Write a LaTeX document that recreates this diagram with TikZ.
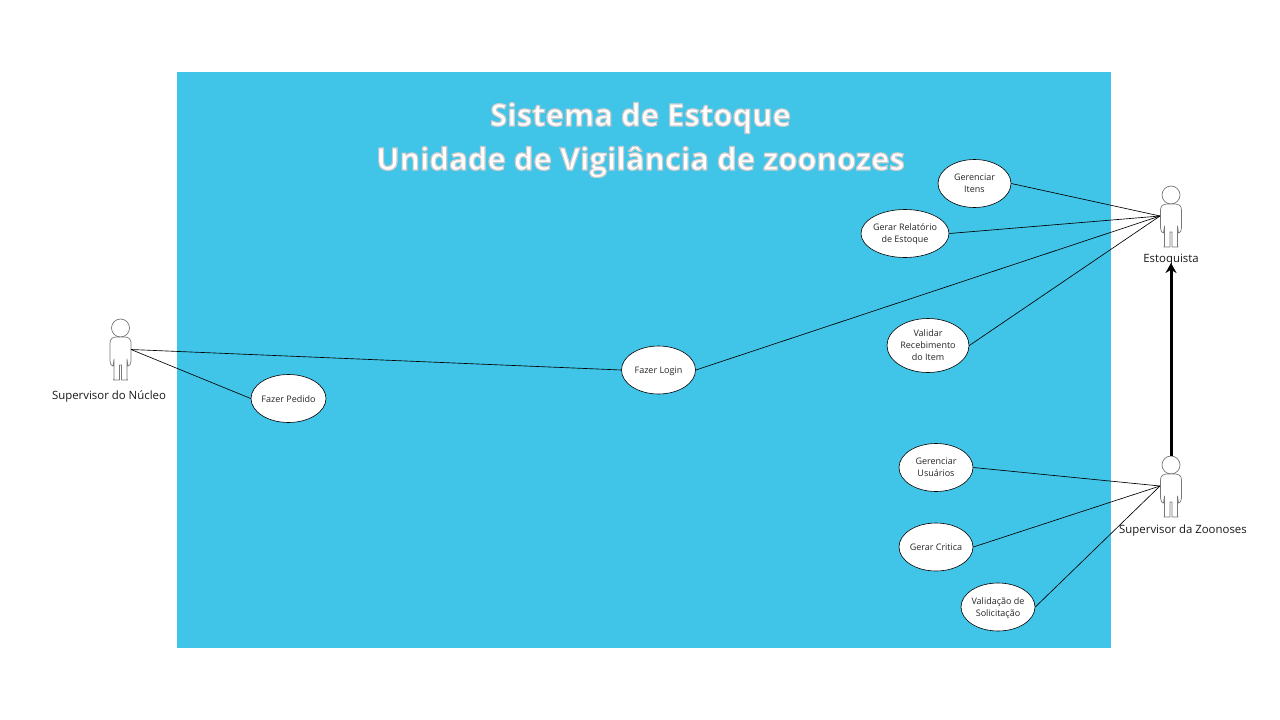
\documentclass[tikz,border=0pt]{standalone}
\usepackage{fontspec}
\setmainfont{Open Sans}
\usetikzlibrary{arrows.meta,shapes.geometric}
\definecolor{sysblue}{HTML}{40C4E7}
\definecolor{figgray}{HTML}{777777}
\tikzset{
  usecase/.style={draw=black,fill=white,ellipse,line width=0.6pt,inner sep=-5pt,align=center,font=\fontsize{9}{11.7}\selectfont,text=black!85,
    execute at begin node={\rule{0pt}{10.5pt}},execute at end node={\rule[-3pt]{0pt}{3pt}}},
  usecasetwo/.style={usecase,execute at begin node={\rule{0pt}{21pt}}},
  usecasethree/.style={usecase,execute at begin node={\rule{0pt}{32pt}}},
  link/.style={draw=black,line width=0.65pt},
  actorlabel/.style={font=\fontsize{11.4}{14}\selectfont,text=black!90,inner sep=0pt},
  titletext/.style={font=\bfseries\fontsize{31}{44}\selectfont,text=white,align=center,inner sep=0pt},
  figure/.style={draw=figgray,fill=white,line width=0.7pt,line join=round},
  hand/.style={inner sep=0pt,minimum size=0pt,outer sep=0pt}
}
\newcommand{\stickman}[2]{%
  \begin{scope}[shift={(#1,#2)}]
    \draw[figure] (0,-21) circle (9);
    \draw[figure] (-4,-12) .. controls (-8,-12) and (-10.5,-10) .. (-10.5,-6)
      -- (-10.5,12) .. controls (-10.5,15) and (-9,17) .. (-7.5,17)
      -- (-6.5,10) -- (-6.5,30) -- (-7,31) -- (-1,31) -- (-1,16) -- (1,16) -- (1,31) -- (7,31) -- (6.5,30) -- (6.5,10)
      -- (7.5,17) .. controls (9,17) and (10.5,15) .. (10.5,12)
      -- (10.5,-6) .. controls (10.5,-10) and (8,-12) .. (4,-12) -- cycle;
  \end{scope}}
\begin{document}
\begin{tikzpicture}[x=1pt,y=-1pt]
\useasboundingbox (0,0) rectangle (1280,720);
\fill[white] (0,0) rectangle (1280,720);
\fill[sysblue] (177,72) rectangle (1110.5,648);
\node[titletext] (title) at (640.5,140) {\special{pdf:code q 2 Tr 1.2 w 0.8 G}Sistema de Estoque\\Unidade de Vigilância de zoonozes\special{pdf:code 0 Tr Q}};

\stickman{120.5}{349}
\stickman{1171}{216}
\stickman{1171}{486}
\node[hand] (nucleo) at (131,349.5) {};
\node[hand] (estoq) at (1160,216) {};
\node[hand] (zoon) at (1160,486) {};

\node[actorlabel] (lnucleo) at (109,396.5) {Supervisor do Núcleo};
\node[actorlabel] (lestoq) at (1171,260) {Estoquista};
\node[actorlabel] (lzoon) at (1183,531) {Supervisor da Zoonoses};

\node[usecase,minimum width=75,minimum height=48] (pedido) at (288.5,398.5) {Fazer Pedido};
\node[usecase,minimum width=74,minimum height=48] (login) at (658.5,370) {Fazer Login};
\node[usecasetwo,minimum width=73,minimum height=48] (itens) at (974.5,183.5) {Gerenciar\\Itens};
\node[usecasetwo,minimum width=88,minimum height=48] (relat) at (905,233.5) {Gerar Relatório\\de Estoque};
\node[usecasethree,minimum width=82,minimum height=54] (valid) at (928,345.5) {Validar\\Recebimento\\do Item};
\node[usecasetwo,minimum width=74,minimum height=48] (usuar) at (936,467.5) {Gerenciar\\Usuários};
\node[usecase,minimum width=74,minimum height=48] (critica) at (936,547) {Gerar Critica};
\node[usecasetwo,minimum width=74,minimum height=48] (solic) at (998,607) {Validação de\\Solicitação};

\draw[link] (nucleo) -- (pedido.west);
\draw[link] (nucleo) -- (login.west);
\draw[link] (login.east) -- (estoq);
\draw[link] (itens.east) -- (estoq);
\draw[link] (relat.east) -- (estoq);
\draw[link] (valid.east) -- (estoq);
\draw[link] (usuar.east) -- (zoon);
\draw[link] (critica.east) -- (zoon);
\draw[link] (solic.east) -- (zoon);
\coordinate (zhead) at (1171,456);
\coordinate (earrow) at (1171,263);
\draw[line width=3pt,-{Stealth[length=10pt,width=11pt]}] (zhead) -- (earrow);
\end{tikzpicture}
\end{document}
